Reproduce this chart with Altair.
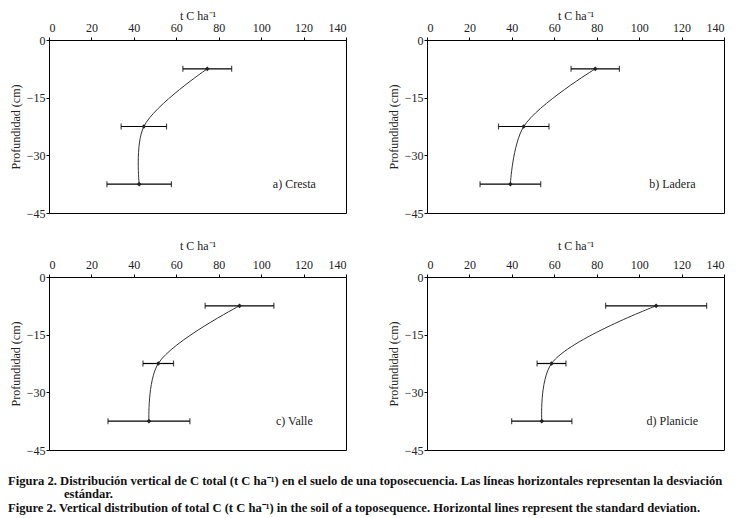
import altair as alt
import pandas as pd

# ---- data ----
panel_labels = ["a) Cresta", "b) Ladera", "c) Valle", "d) Planicie"]
depth_cm = [-7.5, -22.5, -37.5]
mean_cresta = [74.6, 44.7, 42.5]
sd_cresta = [11.5, 10.7, 15.2]
mean_ladera = [79.3, 45.6, 39.3]
sd_ladera = [11.4, 11.9, 14.3]
mean_valle = [89.8, 51.5, 47.1]
sd_valle = [16.2, 7.2, 19.3]
mean_planicie = [108.0, 58.7, 54.1]
sd_planicie = [23.8, 6.8, 14.2]
x_ticks = [0, 20, 40, 60, 80, 100, 120, 140]
y_ticks = [0, -15, -30, -45]

means = [mean_cresta, mean_ladera, mean_valle, mean_planicie]
sds = [sd_cresta, sd_ladera, sd_valle, sd_planicie]

caption_lines = [
    "Figura 2.  Distribución vertical de C total (t C ha⁻¹) en el suelo de una toposecuencia. Las líneas horizontales representan la desviación",
    "estándar.",
    "Figure 2. Vertical distribution of total C (t C ha⁻¹) in the soil of a toposequence. Horizontal lines represent the standard deviation.",
]

FONT = "Liberation Serif"
W, H = 297, 173


def panel(i, top_title_pad):
    df = pd.DataFrame({
        "depth": depth_cm,
        "mean": means[i],
        "lo": [m - s for m, s in zip(means[i], sds[i])],
        "hi": [m + s for m, s in zip(means[i], sds[i])],
    })
    base = alt.Chart(df)
    xs = alt.Scale(domain=[0, 140], nice=False)
    ys = alt.Scale(domain=[-45, 0], nice=False)
    x_axis = alt.Axis(orient="top", values=x_ticks, title="t C ha⁻¹", grid=False,
                      tickSize=3, labelPadding=3, titlePadding=top_title_pad)
    y_axis = alt.Axis(values=y_ticks, title="Profundidad (cm)", grid=False,
                      tickSize=3, labelPadding=1, titlePadding=4)
    line = base.mark_line(interpolate="catmull-rom", color="#333333", strokeWidth=1).encode(
        x=alt.X("mean:Q", scale=xs, axis=x_axis),
        y=alt.Y("depth:Q", scale=ys, axis=y_axis),
        order="order_key:Q",
    ).transform_calculate(order_key="-datum.depth")
    bar = base.mark_rule(color="black", strokeWidth=1.2).encode(
        x="lo:Q", x2="hi:Q", y="depth:Q")
    cap_lo = base.mark_tick(orient="vertical", size=6, thickness=1.2, color="black").encode(
        x="lo:Q", y="depth:Q")
    cap_hi = base.mark_tick(orient="vertical", size=6, thickness=1.2, color="black").encode(
        x="hi:Q", y="depth:Q")
    pts = base.mark_point(shape="diamond", filled=True, size=22, color="#222222", opacity=1).encode(
        x="mean:Q", y="depth:Q")
    lab = alt.Chart(pd.DataFrame({"label": [panel_labels[i]]})).mark_text(
        font=FONT, fontSize=12, align="center", baseline="middle", color="#222222"
    ).encode(x=alt.value(W * 0.826), y=alt.value(H * 0.83), text="label:N")
    return alt.layer(line, bar, cap_lo, cap_hi, pts, lab).properties(width=W, height=H)


def caption_line(txt, x, y):
    return alt.Chart(pd.DataFrame({"t": [txt]})).mark_text(
        font=FONT, fontSize=12.6, fontWeight="bold", align="left", baseline="middle",
        color="#111111"
    ).encode(x=alt.value(x), y=alt.value(y), text="t:N")


caption = alt.layer(
    caption_line(caption_lines[0], -41, -10),
    caption_line(caption_lines[1], 15, 3),
    caption_line(caption_lines[2], -41, 17),
).properties(width=600, height=24, view=alt.ViewBackground(strokeOpacity=0))

row1 = alt.hconcat(panel(0, -1), panel(1, -1), spacing=39)
row2 = alt.hconcat(panel(2, 6), panel(3, 6), spacing=39)
chart = alt.vconcat(row1, row2, caption, spacing=18).properties(
    padding=0,
).configure_view(stroke="black", strokeWidth=1).configure_axis(
    domainColor="black", tickColor="black", labelColor="#222222", titleColor="#222222",
    labelFont=FONT, titleFont=FONT, labelFontSize=12, titleFontSize=12,
    titleFontWeight="normal",
)

chart.save("out.html", embed_options={"renderer": "svg", "actions": False})
